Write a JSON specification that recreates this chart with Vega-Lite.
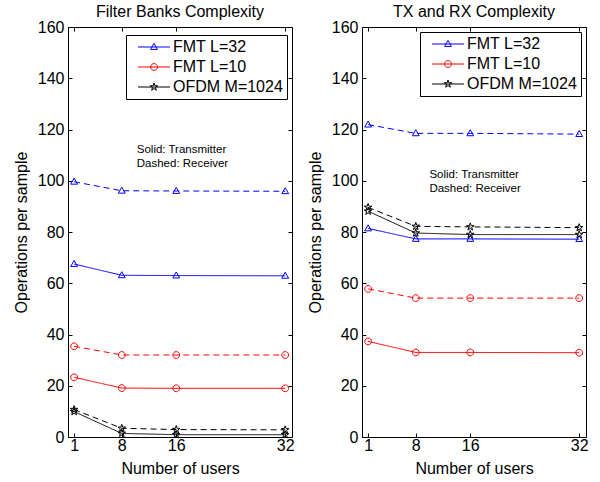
{
  "$schema": "https://vega.github.io/schema/vega-lite/v6.json",
  "padding": {"left": 12, "top": 3, "right": 4, "bottom": 4},
  "spacing": 11,
  "background": "white",
  "config": {
    "font": "Liberation Sans",
    "view": {"stroke": "black", "strokeWidth": 1},
    "axis": {"grid": false, "domain": false, "tickColor": "black", "tickSize": -4, "labelPadding": 8, "labelFontSize": 16, "labelColor": "black", "labelFont": "Liberation Sans", "titleFontSize": 16, "titleFontWeight": "normal", "titleColor": "black", "titleFont": "Liberation Sans"},
    "axisY": {"titlePadding": 8},
    "axisX": {"titlePadding": 7, "labelPadding": 4},
    "title": {"fontSize": 16, "fontWeight": "normal", "font": "Liberation Sans", "color": "black", "offset": -1},
    "legend": {"strokeColor": "black", "fillColor": "white", "padding": 4, "labelFontSize": 16, "labelColor": "black", "labelFont": "Liberation Sans", "symbolSize": 64, "symbolStrokeWidth": 1, "symbolOffset": 16, "labelOffset": 11, "rowPadding": 4, "cornerRadius": 0}
  },
  "data": {"values": [
    {"panel": "fb", "series": "FMT L=32", "side": "Transmitter", "users": 1, "ops": 67.5},
    {"panel": "fb", "series": "FMT L=32", "side": "Transmitter", "users": 8, "ops": 63.1},
    {"panel": "fb", "series": "FMT L=32", "side": "Transmitter", "users": 16, "ops": 63.0},
    {"panel": "fb", "series": "FMT L=32", "side": "Transmitter", "users": 32, "ops": 62.9},
    {"panel": "fb", "series": "FMT L=32", "side": "Receiver", "users": 1, "ops": 99.6},
    {"panel": "fb", "series": "FMT L=32", "side": "Receiver", "users": 8, "ops": 96.1},
    {"panel": "fb", "series": "FMT L=32", "side": "Receiver", "users": 16, "ops": 96.0},
    {"panel": "fb", "series": "FMT L=32", "side": "Receiver", "users": 32, "ops": 95.9},
    {"panel": "fb", "series": "FMT L=10", "side": "Transmitter", "users": 1, "ops": 23.3},
    {"panel": "fb", "series": "FMT L=10", "side": "Transmitter", "users": 8, "ops": 19.1},
    {"panel": "fb", "series": "FMT L=10", "side": "Transmitter", "users": 16, "ops": 19.0},
    {"panel": "fb", "series": "FMT L=10", "side": "Transmitter", "users": 32, "ops": 19.0},
    {"panel": "fb", "series": "FMT L=10", "side": "Receiver", "users": 1, "ops": 35.4},
    {"panel": "fb", "series": "FMT L=10", "side": "Receiver", "users": 8, "ops": 32.0},
    {"panel": "fb", "series": "FMT L=10", "side": "Receiver", "users": 16, "ops": 32.0},
    {"panel": "fb", "series": "FMT L=10", "side": "Receiver", "users": 32, "ops": 32.0},
    {"panel": "fb", "series": "OFDM M=1024", "side": "Transmitter", "users": 1, "ops": 9.9},
    {"panel": "fb", "series": "OFDM M=1024", "side": "Transmitter", "users": 8, "ops": 1.4},
    {"panel": "fb", "series": "OFDM M=1024", "side": "Transmitter", "users": 16, "ops": 0.9},
    {"panel": "fb", "series": "OFDM M=1024", "side": "Transmitter", "users": 32, "ops": 0.9},
    {"panel": "fb", "series": "OFDM M=1024", "side": "Receiver", "users": 1, "ops": 10.7},
    {"panel": "fb", "series": "OFDM M=1024", "side": "Receiver", "users": 8, "ops": 3.4},
    {"panel": "fb", "series": "OFDM M=1024", "side": "Receiver", "users": 16, "ops": 2.9},
    {"panel": "fb", "series": "OFDM M=1024", "side": "Receiver", "users": 32, "ops": 2.8},
    {"panel": "tr", "series": "FMT L=32", "side": "Transmitter", "users": 1, "ops": 81.4},
    {"panel": "tr", "series": "FMT L=32", "side": "Transmitter", "users": 8, "ops": 77.3},
    {"panel": "tr", "series": "FMT L=32", "side": "Transmitter", "users": 16, "ops": 77.3},
    {"panel": "tr", "series": "FMT L=32", "side": "Transmitter", "users": 32, "ops": 77.2},
    {"panel": "tr", "series": "FMT L=32", "side": "Receiver", "users": 1, "ops": 121.9},
    {"panel": "tr", "series": "FMT L=32", "side": "Receiver", "users": 8, "ops": 118.5},
    {"panel": "tr", "series": "FMT L=32", "side": "Receiver", "users": 16, "ops": 118.5},
    {"panel": "tr", "series": "FMT L=32", "side": "Receiver", "users": 32, "ops": 118.2},
    {"panel": "tr", "series": "FMT L=10", "side": "Transmitter", "users": 1, "ops": 37.3},
    {"panel": "tr", "series": "FMT L=10", "side": "Transmitter", "users": 8, "ops": 33.0},
    {"panel": "tr", "series": "FMT L=10", "side": "Transmitter", "users": 16, "ops": 33.0},
    {"panel": "tr", "series": "FMT L=10", "side": "Transmitter", "users": 32, "ops": 32.9},
    {"panel": "tr", "series": "FMT L=10", "side": "Receiver", "users": 1, "ops": 57.8},
    {"panel": "tr", "series": "FMT L=10", "side": "Receiver", "users": 8, "ops": 54.2},
    {"panel": "tr", "series": "FMT L=10", "side": "Receiver", "users": 16, "ops": 54.2},
    {"panel": "tr", "series": "FMT L=10", "side": "Receiver", "users": 32, "ops": 54.2},
    {"panel": "tr", "series": "OFDM M=1024", "side": "Transmitter", "users": 1, "ops": 88.1},
    {"panel": "tr", "series": "OFDM M=1024", "side": "Transmitter", "users": 8, "ops": 79.6},
    {"panel": "tr", "series": "OFDM M=1024", "side": "Transmitter", "users": 16, "ops": 79.0},
    {"panel": "tr", "series": "OFDM M=1024", "side": "Transmitter", "users": 32, "ops": 79.0},
    {"panel": "tr", "series": "OFDM M=1024", "side": "Receiver", "users": 1, "ops": 89.6},
    {"panel": "tr", "series": "OFDM M=1024", "side": "Receiver", "users": 8, "ops": 82.2},
    {"panel": "tr", "series": "OFDM M=1024", "side": "Receiver", "users": 16, "ops": 82.0},
    {"panel": "tr", "series": "OFDM M=1024", "side": "Receiver", "users": 32, "ops": 81.7}
  ]},
  "hconcat": [
    {
      "title": "Filter Banks Complexity",
      "width": 224, "height": 410,
      "transform": [{"filter": "datum.panel === 'fb'"}],
      "layer": [
        {
          "mark": {"type": "line", "strokeWidth": 1},
          "encoding": {
            "x": {"field": "users", "type": "quantitative", "scale": {"domain": [0.1, 33], "nice": false, "zero": false}, "axis": {"values": [1, 8, 16, 32], "title": "Number of users"}},
            "y": {"field": "ops", "type": "quantitative", "scale": {"domain": [0, 160], "nice": false}, "axis": {"values": [0, 20, 40, 60, 80, 100, 120, 140, 160], "title": "Operations per sample"}},
            "color": {"field": "series", "type": "nominal", "scale": {"domain": ["FMT L=32", "FMT L=10", "OFDM M=1024"], "range": ["#0000ff", "#ff0000", "#000000"]}, "legend": null},
            "strokeDash": {"field": "side", "type": "nominal", "scale": {"domain": ["Transmitter", "Receiver"], "range": [[1, 0], [6, 4]]}, "legend": null}
          }
        },
        {
          "mark": {"type": "point", "filled": false, "size": 64, "strokeWidth": 1, "opacity": 1},
          "encoding": {
            "x": {"field": "users", "type": "quantitative", "axis": {"orient": "top", "values": [1, 8, 16, 32], "labels": false, "title": null}},
            "y": {"field": "ops", "type": "quantitative", "axis": {"orient": "right", "values": [0, 20, 40, 60, 80, 100, 120, 140, 160], "labels": false, "title": null}},
            "color": {"field": "series", "type": "nominal", "scale": {"domain": ["FMT L=32", "FMT L=10", "OFDM M=1024"], "range": ["#0000ff", "#ff0000", "#000000"]}, "legend": null},
            "shape": {"field": "series", "type": "nominal", "scale": {"domain": ["FMT L=32", "FMT L=10", "OFDM M=1024"], "range": ["M0,-0.9L0.85,0.6L-0.85,0.6Z", "M0.85,0A0.85,0.85,0,1,1,-0.85,0A0.85,0.85,0,1,1,0.85,0Z", "M0,-1L0.223,-0.307L0.951,-0.309L0.361,0.117L0.588,0.809L0,0.38L-0.588,0.809L-0.361,0.117L-0.951,-0.309L-0.223,-0.307Z"]}, "legend": null}
          }
        },
        {
          "transform": [{"filter": "false"}],
          "mark": {"type": "point", "filled": false, "size": 64, "strokeWidth": 1, "opacity": 1},
          "encoding": {
            "x": {"field": "users", "type": "quantitative", "axis": null},
            "y": {"field": "ops", "type": "quantitative", "axis": null},
            "color": {"field": "series", "type": "nominal", "scale": {"domain": ["FMT L=32", "FMT L=10", "OFDM M=1024"], "range": ["#0000ff", "#ff0000", "#000000"]}, "legend": {"title": null, "orient": "none", "legendX": 58, "legendY": 8}},
            "shape": {"field": "series", "type": "nominal", "scale": {"domain": ["FMT L=32", "FMT L=10", "OFDM M=1024"], "range": ["M-4,0H4M0,-0.9L0.85,0.6L-0.85,0.6Z", "M-4,0H4M0.85,0A0.85,0.85,0,1,1,-0.85,0A0.85,0.85,0,1,1,0.85,0Z", "M-4,0H4M0,-1L0.223,-0.307L0.951,-0.309L0.361,0.117L0.588,0.809L0,0.38L-0.588,0.809L-0.361,0.117L-0.951,-0.309L-0.223,-0.307Z"]}, "legend": {"title": null, "orient": "none", "legendX": 58, "legendY": 8}}
          }
        },
        {
          "transform": [{"filter": "datum.users === 1 && datum.series === 'FMT L=32' && datum.side === 'Transmitter'"}],
          "mark": {"type": "text", "text": ["Solid: Transmitter", "Dashed: Receiver"], "align": "left", "baseline": "alphabetic", "fontSize": 11.5, "lineHeight": 14, "fill": "black"},
          "encoding": {
            "x": {"datum": 10.2, "type": "quantitative", "axis": null},
            "y": {"datum": 110.8, "type": "quantitative", "axis": null}
          }
        }
      ],
      "resolve": {"scale": {"color": "independent", "shape": "independent"}, "legend": {"color": "independent", "shape": "independent"}, "axis": {"x": "independent", "y": "independent"}}
    },
    {
      "title": "TX and RX Complexity",
      "width": 224, "height": 410,
      "transform": [{"filter": "datum.panel === 'tr'"}],
      "layer": [
        {
          "mark": {"type": "line", "strokeWidth": 1},
          "encoding": {
            "x": {"field": "users", "type": "quantitative", "scale": {"domain": [0.1, 33], "nice": false, "zero": false}, "axis": {"values": [1, 8, 16, 32], "title": "Number of users"}},
            "y": {"field": "ops", "type": "quantitative", "scale": {"domain": [0, 160], "nice": false}, "axis": {"values": [0, 20, 40, 60, 80, 100, 120, 140, 160], "title": "Operations per sample"}},
            "color": {"field": "series", "type": "nominal", "scale": {"domain": ["FMT L=32", "FMT L=10", "OFDM M=1024"], "range": ["#0000ff", "#ff0000", "#000000"]}, "legend": null},
            "strokeDash": {"field": "side", "type": "nominal", "scale": {"domain": ["Transmitter", "Receiver"], "range": [[1, 0], [6, 4]]}, "legend": null}
          }
        },
        {
          "mark": {"type": "point", "filled": false, "size": 64, "strokeWidth": 1, "opacity": 1},
          "encoding": {
            "x": {"field": "users", "type": "quantitative", "axis": {"orient": "top", "values": [1, 8, 16, 32], "labels": false, "title": null}},
            "y": {"field": "ops", "type": "quantitative", "axis": {"orient": "right", "values": [0, 20, 40, 60, 80, 100, 120, 140, 160], "labels": false, "title": null}},
            "color": {"field": "series", "type": "nominal", "scale": {"domain": ["FMT L=32", "FMT L=10", "OFDM M=1024"], "range": ["#0000ff", "#ff0000", "#000000"]}, "legend": null},
            "shape": {"field": "series", "type": "nominal", "scale": {"domain": ["FMT L=32", "FMT L=10", "OFDM M=1024"], "range": ["M0,-0.9L0.85,0.6L-0.85,0.6Z", "M0.85,0A0.85,0.85,0,1,1,-0.85,0A0.85,0.85,0,1,1,0.85,0Z", "M0,-1L0.223,-0.307L0.951,-0.309L0.361,0.117L0.588,0.809L0,0.38L-0.588,0.809L-0.361,0.117L-0.951,-0.309L-0.223,-0.307Z"]}, "legend": null}
          }
        },
        {
          "transform": [{"filter": "false"}],
          "mark": {"type": "point", "filled": false, "size": 64, "strokeWidth": 1, "opacity": 1},
          "encoding": {
            "x": {"field": "users", "type": "quantitative", "axis": null},
            "y": {"field": "ops", "type": "quantitative", "axis": null},
            "color": {"field": "series", "type": "nominal", "scale": {"domain": ["FMT L=32", "FMT L=10", "OFDM M=1024"], "range": ["#0000ff", "#ff0000", "#000000"]}, "legend": {"title": null, "orient": "none", "legendX": 58, "legendY": 5}},
            "shape": {"field": "series", "type": "nominal", "scale": {"domain": ["FMT L=32", "FMT L=10", "OFDM M=1024"], "range": ["M-4,0H4M0,-0.9L0.85,0.6L-0.85,0.6Z", "M-4,0H4M0.85,0A0.85,0.85,0,1,1,-0.85,0A0.85,0.85,0,1,1,0.85,0Z", "M-4,0H4M0,-1L0.223,-0.307L0.951,-0.309L0.361,0.117L0.588,0.809L0,0.38L-0.588,0.809L-0.361,0.117L-0.951,-0.309L-0.223,-0.307Z"]}, "legend": {"title": null, "orient": "none", "legendX": 58, "legendY": 5}}
          }
        },
        {
          "transform": [{"filter": "datum.users === 1 && datum.series === 'FMT L=32' && datum.side === 'Transmitter'"}],
          "mark": {"type": "text", "text": ["Solid: Transmitter", "Dashed: Receiver"], "align": "left", "baseline": "alphabetic", "fontSize": 11.5, "lineHeight": 14, "fill": "black"},
          "encoding": {
            "x": {"datum": 10.0, "type": "quantitative", "axis": null},
            "y": {"datum": 101.1, "type": "quantitative", "axis": null}
          }
        }
      ],
      "resolve": {"scale": {"color": "independent", "shape": "independent"}, "legend": {"color": "independent", "shape": "independent"}, "axis": {"x": "independent", "y": "independent"}}
    }
  ]
}
